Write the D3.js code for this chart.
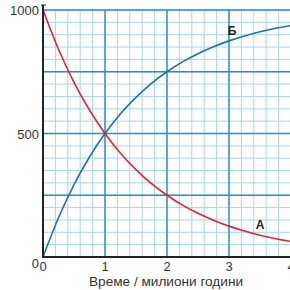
<!DOCTYPE html>
<html>
<head>
<meta charset="utf-8">
<script src="https://cdn.jsdelivr.net/npm/d3@7"></script>
<style>
  body { margin: 0; background: #fff; }
  svg text { font-family: "Liberation Sans", Arial, sans-serif; fill: #333; }
</style>
</head>
<body>
<svg id="chart" width="290" height="290"></svg>
<script>
// time in million years
let times = [0, 0.25, 0.5, 0.75, 1, 1.25, 1.5, 1.75, 2, 2.25, 2.5, 2.75, 3, 3.25, 3.5, 3.75, 4]
// curve A (decaying) and curve Б (growing)
let seriesA = [1000, 841, 707, 595, 500, 420, 354, 297, 250, 210, 177, 149, 125, 105, 88, 74, 63]
let seriesB = [0, 159, 293, 405, 500, 580, 646, 703, 750, 790, 823, 851, 875, 895, 912, 926, 937]
let xTicks = [0, 1, 2, 3, 4]
let yTicks = [0, 500, 1000]
let xLabel = "Време / милиони години"

let svg = d3.select("#chart")

let x = d3.scaleLinear().domain([0, 4]).range([43, 291])
let y = d3.scaleLinear().domain([0, 1000]).range([257, 10])

// minor grid
let g = svg.append("g")
g.selectAll(".vminor").data(d3.range(0, 4.01, 0.2)).join("line")
    .attr("x1", d => x(d)).attr("x2", d => x(d))
    .attr("y1", y(0)).attr("y2", y(1000))
    .attr("stroke", "#a6d6f4").attr("stroke-width", 1)
g.selectAll(".hminor").data(d3.range(0, 1001, 50)).join("line")
    .attr("x1", x(0)).attr("x2", 290)
    .attr("y1", d => y(d)).attr("y2", d => y(d))
    .attr("stroke", "#a6d6f4").attr("stroke-width", 1)

// major grid
g.selectAll(".vmajor").data([1, 2, 3, 4]).join("line")
    .attr("x1", d => x(d)).attr("x2", d => x(d))
    .attr("y1", y(0)).attr("y2", y(1000))
    .attr("stroke", "#2a8ad4").attr("stroke-width", 1.4)
g.selectAll(".hmajor").data([250, 500, 750, 1000]).join("line")
    .attr("x1", x(0)).attr("x2", 290)
    .attr("y1", d => y(d)).attr("y2", d => y(d))
    .attr("stroke", "#2a8ad4").attr("stroke-width", 1.4)

// curves
let line = d3.line().curve(d3.curveMonotoneX)
svg.append("path")
    .attr("d", line(times.map((t, i) => [x(t), y(seriesB[i])])))
    .attr("fill", "none").attr("stroke", "#1d6fb8").attr("stroke-width", 1.6)
svg.append("path")
    .attr("d", line(times.map((t, i) => [x(t), y(seriesA[i])])))
    .attr("fill", "none").attr("stroke", "#e5232b").attr("stroke-width", 1.6)

// axes
svg.append("line").attr("x1", x(0)).attr("x2", x(0)).attr("y1", 5).attr("y2", y(0))
    .attr("stroke", "#222").attr("stroke-width", 2)
svg.append("line").attr("x1", x(0) - 2).attr("x2", x(0) + 3).attr("y1", 5).attr("y2", 5)
    .attr("stroke", "#222").attr("stroke-width", 1)
svg.append("line").attr("x1", x(0) - 1).attr("x2", 290).attr("y1", y(0)).attr("y2", y(0))
    .attr("stroke", "#222").attr("stroke-width", 2)

// tick labels
svg.selectAll(".ylab").data(yTicks).join("text")
    .attr("x", 39)
    .attr("y", d => d === 0 ? y(d) + 11 : y(d) + 5)
    .attr("text-anchor", "end")
    .attr("font-size", 13)
    .text(d => d)
svg.selectAll(".xlab").data(xTicks).join("text")
    .attr("x", d => x(d))
    .attr("y", 271)
    .attr("text-anchor", "middle")
    .attr("font-size", 13)
    .text(d => d)

svg.append("text")
    .attr("x", 166).attr("y", 286)
    .attr("text-anchor", "middle")
    .attr("font-size", 13)
    .attr("textLength", 154)
    .attr("lengthAdjust", "spacingAndGlyphs")
    .text(xLabel)

// curve labels
svg.append("text").attr("x", x(3.05)).attr("y", y(900)).attr("text-anchor", "middle")
    .attr("font-size", 12).attr("font-weight", "bold").style("fill", "#222").text("Б")
svg.append("text").attr("x", x(3.5)).attr("y", y(115)).attr("text-anchor", "middle")
    .attr("font-size", 12).attr("font-weight", "bold").style("fill", "#222").text("А")
</script>
</body>
</html>
